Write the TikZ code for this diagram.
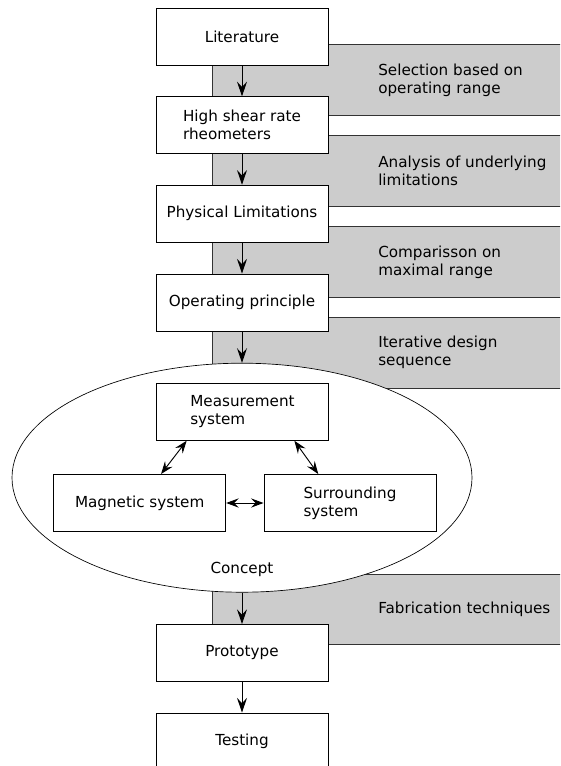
\documentclass[tikz,border=0pt]{standalone}
\usepackage{fontspec}
\setmainfont{DejaVu Sans}
\usetikzlibrary{arrows.meta,shapes.geometric}
\tikzset{
  procbox/.style={draw,fill=white,line width=0.7pt,minimum width=129pt,minimum height=42.75pt,inner sep=0pt,align=left},
  stageband/.style={fill=black!20,draw=black!80,line width=0.7pt},
  bandtext/.style={anchor=west,align=left,inner sep=0pt},
  flowArrow/.style={-{Stealth[length=11pt,width=7.5pt,inset=4pt]},line width=0.7pt},
  linkArrow/.style={{Stealth[length=9.5pt,width=7pt,inset=3.5pt]}-{Stealth[length=9.5pt,width=7pt,inset=3.5pt]},line width=0.7pt}
}

\begin{document}
\begin{tikzpicture}[x=0.75pt,y=-0.75pt,font=\fontsize{11.4}{13.5}\selectfont]
  \clip (0,0) rectangle (560,766);
  \fill[white] (0,0) rectangle (560,766);

  % grey bands behind the chain
  \draw[stageband] (212.5,44.3) rectangle (580,115.7);
  \draw[stageband] (212.5,135.7) rectangle (580,206);
  \draw[stageband] (212.5,226.7) rectangle (580,297.3);
  \draw[stageband] (212.5,317.3) rectangle (580,388.3);
  \draw[stageband] (212.5,574) rectangle (580,644);
  \node[bandtext] (t1) at (378,80) {Selection based on\\operating range};
  \node[bandtext] (t2) at (378,171) {Analysis of underlying\\limitations};
  \node[bandtext] (t3) at (378,262) {Comparisson on\\maximal range};
  \node[bandtext] (t4) at (378,352.8) {Iterative design\\sequence};
  \node[bandtext] (t5) at (378,609) {Fabrication techniques};

  \node[procbox] (lit) at (242,36.7) {Literature};
  \node[procbox] (rheo) at (242,125.3) {High shear rate\\rheometers};
  \node[procbox] (phys) at (242,213.7) {Physical Limitations};
  \node[procbox] (oper) at (242,302.5) {Operating principle};

  \node[draw,fill=white,ellipse,line width=0.5pt,minimum width=345pt,minimum height=171.75pt,inner sep=0pt] (concept) at (242,477.7) {};
  \node (conceptlbl) at (242,569) {Concept};

  \node[procbox] (meas) at (242.5,411.8) {Measurement\\system};
  \node[procbox] (mag) at (139.7,503) {Magnetic system};
  \node[procbox] (surr) at (350,503) {Surrounding\\system};

  \node[procbox] (proto) at (242,653) {Prototype};
  \node[procbox] (test) at (242,741.5) {Testing};

  \draw[flowArrow] (lit) -- (rheo);
  \draw[flowArrow] (rheo) -- (phys);
  \draw[flowArrow] (phys) -- (oper);
  \draw[flowArrow] (oper) -- (concept);
  \draw[flowArrow] (concept) -- (proto);
  \draw[flowArrow] (proto) -- (test);

  \draw[linkArrow] ([xshift=-41.9pt]meas.south) -- ([xshift=16pt]mag.north);
  \draw[linkArrow] ([xshift=38.9pt]meas.south) -- ([xshift=-23.8pt]surr.north);
  \draw[linkArrow] (mag) -- (surr);
\end{tikzpicture}
\end{document}
